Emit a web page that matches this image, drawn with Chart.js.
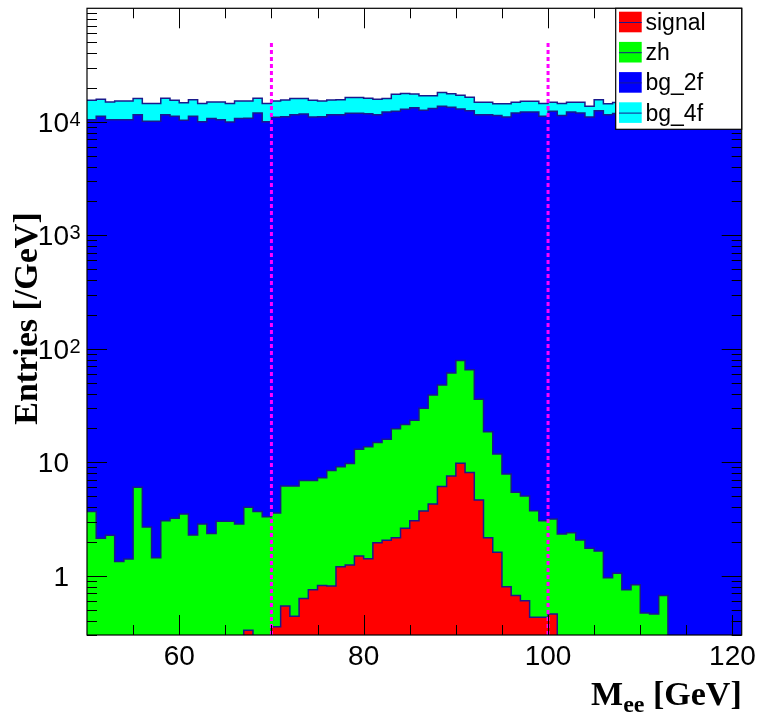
<!DOCTYPE html>
<html>
<head>
<meta charset="utf-8">
<script src="https://cdn.jsdelivr.net/npm/chart.js@4.4.0/dist/chart.umd.min.js"></script>
<style>
html,body{margin:0;padding:0;background:#ffffff;}
canvas{display:block;}
</style>
</head>
<body>
<canvas id="c" width="758" height="722"></canvas>
<script>
// ---- data (bin low edges in GeV, 1 GeV bins; last entry is the upper edge of the last bin)
const massEdges = [50,51,52,53,54,55,56,57,58,59,60,61,62,63,64,65,66,67,68,69,70,71,72,73,74,75,76,77,78,79,80,81,82,83,84,85,86,87,88,89,90,91,92,93,94,95,96,97,98,99,100,101,102,103,104,105,106,107,108,109,110,111,112,113,114,115,116,117,118,119,120,121];

const seriesNames = ['signal', 'zh', 'bg_2f', 'bg_4f'];

const signal = [0,0,0,0,0,0,0,0,0,0, 0,0,0,0,0,0,0,0.33,0,0,
  0.355,0.54,0.44,0.63,0.75,0.82,0.81,1.20,1.24,1.49,
  1.41,1.95,2.05,2.16,2.62,3.05,3.72,4.29,6.10,7.57,
  9.80,8.10,4.65,2.16,1.61,0.80,0.67,0.60,0.43,0.43,
  0.46,0,0,0,0,0,0,0,0,0, 0,0,0,0,0,0,0,0,0,0, 0];

const zh = [3.67,2.14,2.27,1.33,1.40,6.02,2.69,1.44,3.04,3.21,
  3.50,2.28,2.86,2.35,3.02,3.02,2.86,3.68,3.67,3.31,
  3.22,5.64,5.74,6.25,6.13,6.49,7.62,7.94,8.48,11.5,
  12.3,13.0,13.9,17.6,18.9,20.4,26.2,34.9,41.7,53.4,
  69.0,57.1,31.3,16.4,10.2,7.08,4.77,4.44,3.31,2.62,
  2.70,2.33,2.39,2.06,1.74,1.65,0.96,1.05,0.75,0.83,
  0.47,0.46,0.67,0,0,0,0,0,0,0, 0];

const bg2f = [10430,11160,10430,10430,10430,11540,10090,10090,11550,11160,
  10290,11160,10020,10710,10430,9960,10710,10710,11960,10020,
  10930,11080,11540,11710,11000,11080,11540,11540,11850,11850,
  11770,11540,12170,12330,12840,13280,12630,13030,13630,13340,
  12890,12470,11510,11530,11370,11000,11950,12190,12190,11160,
  12350,11380,12190,11960,11010,12530,11550,11800,12100,11600,
  12000,11700,12200,11900,11500,12000,11800,12300,11700,11900, 12100];

const bg4f = [5020,4610,4530,4820,4820,4530,4430,4430,4530,4290,
  4440,4510,4500,4250,4530,4560,4540,4540,4120,4500,
  4320,4470,4530,4360,4440,4160,4010,4120,4540,4540,
  4300,4220,3890,5100,4930,4300,4290,3880,4480,4300,
  4140,3890,3290,3290,3070,3440,2880,2960,2960,3290,
  2490,3070,2650,2880,2670,3140,2900,3000,2900,3100,
  2800,3000,2900,3100,3000,2800,3000,2900,3100,3000, 2900];

const xTickLabels = [60, 80, 100, 120];
const yTickLabels = [1, 10, 100, 1000, 10000];
const cutValues = [70, 100];     // selection cut lines (GeV)
const cutTop = 51000;            // upper end of the cut lines (Entries)

// ---- styles
const fills = ['#ff0000', '#00ff00', '#0000ff', '#00ffff'];
const outline = '#1a1a8c';
const SANS = '"Liberation Sans", Arial, Helvetica, sans-serif';
const SERIF = '"Liberation Serif", "Times New Roman", serif';

// stacked (cumulative) tops, THStack style
const layers = [signal, zh, bg2f, bg4f];
const stacked = [];
let acc = signal.map(() => 0);
layers.forEach(a => { acc = acc.map((s, i) => s + a[i]); stacked.push(acc); });

function stepPoints(vals) {
  const pts = vals.map((v, i) => ({ x: massEdges[i], y: v > 0 ? v : 1e-3 }));
  pts.push({ x: massEdges[vals.length], y: pts[pts.length - 1].y });
  return pts;
}

const decor = {
  id: 'decor',
  afterDatasetsDraw(chart) {
    const { ctx, chartArea: a, scales: { x, y } } = chart;
    ctx.save();
    // cut lines
    ctx.strokeStyle = '#ff00ff';
    ctx.lineWidth = 3;
    ctx.setLineDash([4, 3]);
    cutValues.forEach(v => {
      const px = x.getPixelForValue(v);
      ctx.beginPath();
      ctx.moveTo(px, a.bottom);
      ctx.lineTo(px, y.getPixelForValue(cutTop));
      ctx.stroke();
    });
    ctx.setLineDash([]);

    // frame
    ctx.strokeStyle = '#000';
    ctx.lineWidth = 1.2;
    ctx.strokeRect(a.left, a.top, a.right - a.left, a.bottom - a.top);

    // x ticks (bottom and top), every 5 GeV, major every 20
    ctx.lineWidth = 1;
    ctx.beginPath();
    for (let v = 55; v <= 120; v += 5) {
      const px = Math.round(x.getPixelForValue(v)) + 0.5;
      const len = (v % 20 === 0) ? 20 : 10;
      ctx.moveTo(px, a.bottom); ctx.lineTo(px, a.bottom - len);
      ctx.moveTo(px, a.top); ctx.lineTo(px, a.top + len);
    }
    // y ticks (left and right), log
    for (let e = -1; e <= 4; e++) {
      for (let k = 1; k <= 9; k++) {
        const v = k * Math.pow(10, e);
        if (v < y.min || v > y.max) continue;
        const py = Math.round(y.getPixelForValue(v)) + 0.5;
        const len = (k === 1) ? 20 : 10;
        ctx.moveTo(a.left, py); ctx.lineTo(a.left + len, py);
        ctx.moveTo(a.right, py); ctx.lineTo(a.right - len, py);
      }
    }
    ctx.stroke();
    ctx.restore();
  },
  afterDraw(chart) {
    const { ctx, chartArea: a, scales: { x, y } } = chart;
    ctx.save();
    ctx.fillStyle = '#000';

    // x tick labels
    ctx.font = '28px ' + SANS;
    ctx.textAlign = 'center';
    ctx.textBaseline = 'alphabetic';
    xTickLabels.forEach(v => ctx.fillText(String(v), x.getPixelForValue(v), 665));

    // y tick labels
    yTickLabels.forEach(v => {
      const py = y.getPixelForValue(v);
      const e = Math.round(Math.log10(v));
      ctx.font = '28px ' + SANS;
      ctx.textAlign = 'right';
      ctx.fillText(e <= 1 ? String(v) : '10', 69, py + 10);
      if (e >= 2) {
        ctx.font = '20px ' + SANS;
        ctx.textAlign = 'left';
        ctx.fillText(String(e), 69.5, py + 4);
      }
    });

    // axis titles
    ctx.font = 'bold 34px ' + SERIF;
    ctx.save();
    ctx.translate(36.5, 318.5);
    ctx.rotate(-Math.PI / 2);
    ctx.textAlign = 'center';
    ctx.fillText('Entries [/GeV]', 0, 0);
    ctx.restore();

    const big = 'bold 34px ' + SERIF, small = 'bold 24px ' + SERIF;
    ctx.font = big;
    const wM = ctx.measureText('M').width;
    const wRest = ctx.measureText(' [GeV]').width;
    ctx.font = small;
    const wSub = ctx.measureText('ee').width;
    let xs = a.right - (wM + wSub + wRest);
    ctx.textAlign = 'left';
    ctx.font = big; ctx.fillText('M', xs, 705); xs += wM;
    ctx.font = small; ctx.fillText('ee', xs, 712); xs += wSub;
    ctx.font = big; ctx.fillText(' [GeV]', xs, 705);

    // legend
    const lx = 615.7, ly = a.top, lw = a.right - 615.7, lh = 121;
    ctx.fillStyle = '#fff';
    ctx.fillRect(lx, ly, lw, lh);
    ctx.strokeStyle = '#000';
    ctx.lineWidth = 1.2;
    ctx.strokeRect(lx, ly, lw, lh);
    chart.data.datasets.forEach((ds, k) => {
      const cy = 22 + k * 30.2;
      ctx.fillStyle = ds.backgroundColor;
      ctx.fillRect(619, cy - 10.3, 22.7, 20.6);
      ctx.strokeStyle = outline;
      ctx.lineWidth = 1;
      ctx.beginPath();
      ctx.moveTo(619, cy + 0.5); ctx.lineTo(641.7, cy + 0.5);
      ctx.stroke();
      ctx.fillStyle = '#000';
      ctx.font = '23px ' + SANS;
      ctx.textAlign = 'left';
      ctx.fillText(ds.label, 645.5, cy + 8);
    });
    ctx.restore();
  }
};

new Chart(document.getElementById('c'), {
  type: 'line',
  data: {
    datasets: seriesNames.map((name, k) => ({
      label: name,
      data: stepPoints(stacked[k]),
      stepped: true,
      fill: 'start',
      backgroundColor: fills[k],
      borderColor: outline,
      borderWidth: 1.5,
      pointRadius: 0,
      pointHoverRadius: 0,
      tension: 0
    }))
  },
  options: {
    responsive: false,
    animation: false,
    events: [],
    layout: { padding: { left: 0, right: 16.3, top: 8.3, bottom: 0 } },
    plugins: { legend: { display: false }, tooltip: { enabled: false } },
    scales: {
      x: {
        type: 'linear', min: 50, max: 121,
        grid: { display: false }, border: { display: false },
        ticks: { display: false },
        afterFit(s) { s.height = 87; }
      },
      y: {
        type: 'logarithmic', min: 0.3, max: 100000,
        grid: { display: false }, border: { display: false },
        ticks: { display: false },
        afterFit(s) { s.width = 87; }
      }
    }
  },
  plugins: [decor]
});
</script>
</body>
</html>
